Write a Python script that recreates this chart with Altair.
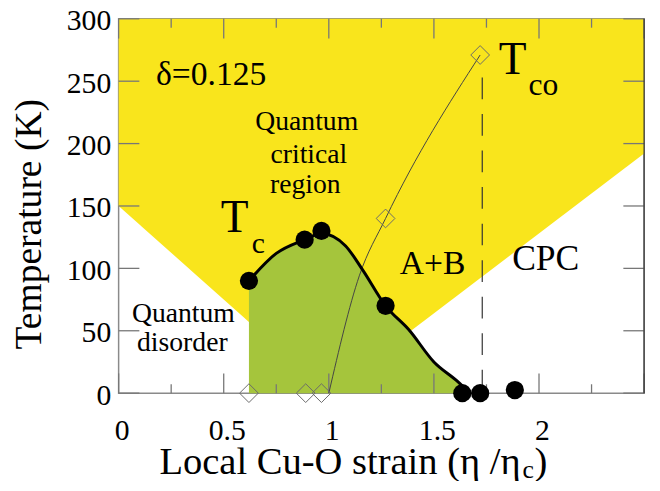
import altair as alt
import pandas as pd

# ---------------- data ----------------
# T_c : filled circles
tc_x = [0.62, 0.885, 0.965, 1.27, 1.635, 1.72, 1.885]
tc_y = [90, 123, 130, 70, 0, 0, 2.5]
# smooth T_c dome (thick black line + green fill)
dome_x = [0.62, 0.75, 0.885, 0.965, 1.08, 1.16, 1.27, 1.38, 1.5, 1.615, 1.67]
dome_y = [90, 112, 123, 128, 118, 99, 70, 51, 25, 9, 0]
# T_co : open diamonds
tco_x = [0.62, 0.89, 0.965, 1.27, 1.72]
tco_y = [0, 0, 0, 140, 271]
# thin T_co line
tco_line_x = [1.0, 1.145, 1.27, 1.72]
tco_line_y = [0, 94, 140, 271]
# quantum critical (yellow) region: lower boundary, upper = 300
qcr_x = [0.0, 1.0, 2.5]
qcr_lower = [150, 0, 192]
qcr_upper = [300, 300, 300]
# dashed vertical line
eta_line_x = [1.73]
eta_line_top = [253]
# ticks / labels
x_major = [0, 0.5, 1, 1.5, 2, 2.5]
x_minor = [0.25, 0.75, 1.25, 1.75, 2.25]
x_labels = [0, 0.5, 1, 1.5, 2]
y_major = [0, 50, 100, 150, 200, 250, 300]

ann_text = ["δ=0.125", "Quantum", "critical", "region", "T", "c", "T", "co",
            "A+B", "CPC", "Quantum", "disorder"]
ann_x = [0.44, 0.895, 0.905, 0.888, 0.552, 0.665, 1.875, 2.021, 1.494, 2.032, 0.308, 0.303]
ann_y = [247.1, 210.5, 184.1, 160.8, 129.3, 112.7, 255.7, 239.2, 95.2, 98.4, 57.4, 33.7]
ann_size = [34, 28, 28, 28, 46, 30, 46, 32, 34, 36, 28, 28]

# ---------------- styling ----------------
W, H = 532, 379
FONT = "Liberation Serif"
YELLOW = "#f9e51c"
GREEN = "#a5c53c"
TICK = "#777777"

xscale = alt.Scale(domain=[0, 2.5], nice=False, zero=False)
yscale = alt.Scale(domain=[0, 300], nice=False, zero=False)
xaxis = alt.Axis(values=x_labels, format="~g", title=None, ticks=False, tickSize=0,
                 domain=False, grid=False, labelFlush=False, labelOverlap=False,
                 labelPadding=47, labelBaseline="alphabetic", labelOffset=3)
yaxis = alt.Axis(values=y_major, title=None, ticks=False, tickSize=0, domain=False,
                 grid=False, labelFlush=False, labelOverlap=False, labelPadding=8,
                 labelBaseline="middle", labelOffset=2)


def X(f):
    return alt.X(f, type="quantitative", scale=xscale, axis=xaxis)


def Y(f):
    return alt.Y(f, type="quantitative", scale=yscale, axis=yaxis)


qcr = pd.DataFrame({"x": qcr_x, "lo": qcr_lower, "hi": qcr_upper})
dome = pd.DataFrame({"x": dome_x, "y": dome_y})
tc = pd.DataFrame({"x": tc_x, "y": tc_y})
tco = pd.DataFrame({"x": tco_x, "y": tco_y})
tcol = pd.DataFrame({"x": tco_line_x, "y": tco_line_y})
eta = pd.DataFrame({"x": eta_line_x, "top": eta_line_top})
ann = pd.DataFrame({"text": ann_text, "x": ann_x, "y": ann_y, "size": ann_size})
one = pd.DataFrame({"a": [0]})

yellow = alt.Chart(qcr).mark_area(color=YELLOW, opacity=1).encode(
    x=X("x"), y=Y("lo"), y2="hi")
green = alt.Chart(dome).mark_area(color=GREEN, opacity=1, interpolate="monotone").encode(
    x=X("x"), y=Y("y"), y2=alt.datum(0))

tick_layers = []
for vals, ln in ((x_major, 20), (x_minor, 9)):
    d = pd.DataFrame({"v": vals})
    tick_layers.append(alt.Chart(d).mark_rule(color=TICK, strokeWidth=1.3).encode(
        x=X("v"), y=alt.value(H), y2=alt.value(H - ln)))
    tick_layers.append(alt.Chart(d).mark_rule(color=TICK, strokeWidth=1.3).encode(
        x=X("v"), y=alt.value(0), y2=alt.value(ln)))
dy = pd.DataFrame({"v": y_major})
tick_layers.append(alt.Chart(dy).mark_rule(color=TICK, strokeWidth=1.3).encode(
    y=Y("v"), x=alt.value(0), x2=alt.value(21)))
tick_layers.append(alt.Chart(dy).mark_rule(color=TICK, strokeWidth=1.3).encode(
    y=Y("v"), x=alt.value(W), x2=alt.value(W - 21)))

dashed = alt.Chart(eta).mark_rule(color="#333333", strokeWidth=1.2, strokeDash=[22, 15]).encode(
    x=X("x"), y=Y("top"), y2=alt.datum(0))

tco_line = alt.Chart(tcol).mark_line(color="#444444", strokeWidth=1, interpolate="monotone").encode(
    x=X("x"), y=Y("y"))
dome_line = alt.Chart(dome).mark_line(color="black", strokeWidth=3, interpolate="monotone").encode(
    x=X("x"), y=Y("y"))
diamonds = alt.Chart(tco).mark_point(shape="diamond", filled=False, size=360,
                                     color="#6a6a6a", strokeWidth=1, opacity=1).encode(
    x=X("x"), y=Y("y"))
circles = alt.Chart(tc).mark_point(shape="circle", filled=True, size=340,
                                   color="black", opacity=1).encode(
    x=X("x"), y=Y("y"))

labels = alt.Chart(ann).mark_text(font=FONT, align="center", baseline="alphabetic",
                                  color="black").encode(
    x=X("x"), y=Y("y"), text="text", size=alt.Size("size", type="quantitative", scale=None))

# axis titles
xt_main = alt.Chart(one).mark_text(text="Local Cu-O strain  (η /η", font=FONT, fontSize=39,
                                   align="right", baseline="alphabetic", color="black").encode(
    x=alt.value(407), y=alt.value(461))
xt_sub = alt.Chart(one).mark_text(text="c", font=FONT, fontSize=26, align="left",
                                  baseline="alphabetic", color="black").encode(
    x=alt.value(409), y=alt.value(465))
xt_par = alt.Chart(one).mark_text(text=")", font=FONT, fontSize=39, align="left",
                                  baseline="alphabetic", color="black").encode(
    x=alt.value(421), y=alt.value(461))
yt = alt.Chart(one).mark_text(text="Temperature (K)", font=FONT, fontSize=38, angle=270,
                              align="center", baseline="alphabetic", color="black").encode(
    x=alt.value(-79), y=alt.value(208))

right_edge = alt.Chart(one).mark_rule(color="#333333", strokeWidth=1.2).encode(
    x=alt.value(W), y=alt.value(0), y2=alt.value(H))

chart = alt.layer(
    yellow, green, *tick_layers, dashed, tco_line, dome_line, diamonds, circles,
    labels, xt_main, xt_sub, xt_par, yt, right_edge
).properties(
    width=W, height=H,
    padding={"left": 112, "top": 8, "right": 8, "bottom": 86},
    autosize=alt.AutoSizeParams(type="none"),
).configure_view(
    stroke="#8a8a8a", strokeWidth=1.5
).configure_axis(
    labelFont=FONT, labelFontSize=30, labelColor="black"
)

chart.save("out.html", embed_options={"renderer": "svg", "actions": False})
